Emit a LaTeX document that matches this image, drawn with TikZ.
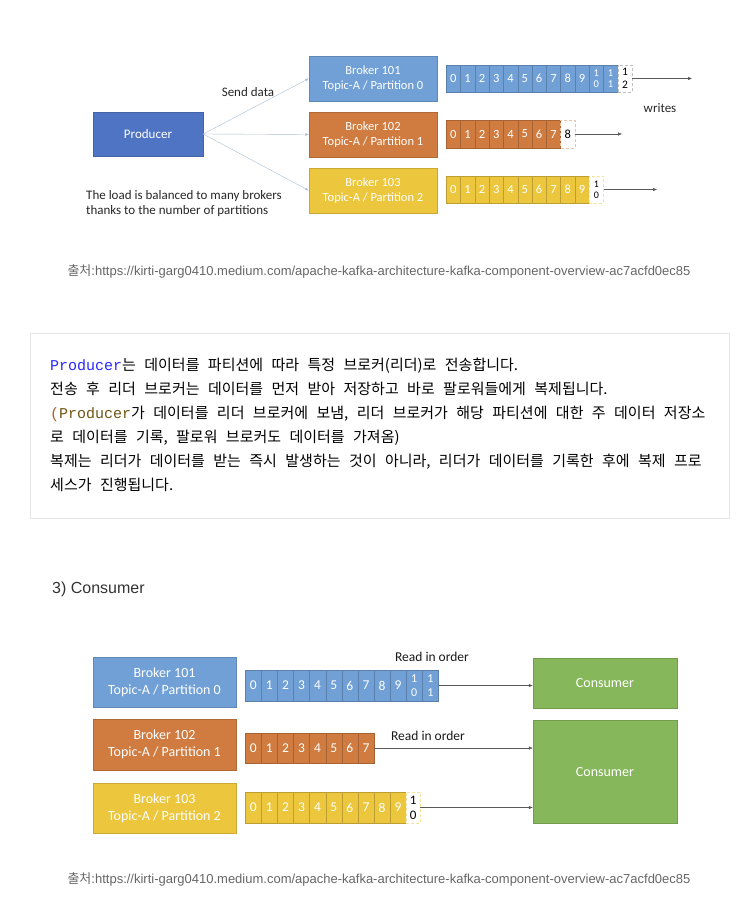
\documentclass[tikz,border=0pt]{standalone}
\usepackage{fontspec}
\setmainfont{Carlito}
\newfontfamily\krfont[WordSpace=2.5]{Noto Sans CJK KR}
\newfontfamily\capfont{Liberation Sans}
\newfontfamily\codefont{Liberation Mono}
\usetikzlibrary{arrows.meta, positioning, calc}
\definecolor{kprod}{RGB}{79,116,196}
\definecolor{kblue}{RGB}{112,160,214}
\definecolor{korange}{RGB}{208,123,64}
\definecolor{kyellow}{RGB}{236,198,60}
\definecolor{kgreen}{RGB}{134,183,90}
\definecolor{kline}{RGB}{170,190,212}
\definecolor{kcodeblue}{RGB}{40,40,255}
\definecolor{kcodebrown}{RGB}{110,85,20}
\tikzset{
    brokerbox/.style={draw=#1!85!black, fill=#1, text=white, align=center, inner sep=0pt},
    logcell/.style={draw=#1!80!black, fill=#1, text=white, anchor=west, inner sep=0pt, align=center},
    newcell/.style={draw=#1, densely dashed, fill=white, text=black, anchor=west, inner sep=0pt, align=center},
    sendarrow/.style={draw=kline, -{Latex[length=3.5pt,width=3pt]}},
    writearrow/.style={draw=black!65, -{Latex[length=4pt,width=3.5pt]}},
    krline/.style={anchor=base west, inner sep=0pt, font=\krfont\fontsize{15}{17}\selectfont},
    srcnote/.style={text=black!60, inner sep=0pt, font=\capfont\fontsize{13}{15}\selectfont}
}

\begin{document}
\begin{tikzpicture}[x=1pt, y=-1pt]
    \useasboundingbox (0,0) rectangle (753,907);

    % Producer e broker (in alto)
    \node[brokerbox=kprod, minimum width=110pt, minimum height=44pt, font=\fontsize{13}{15}\selectfont] (prod) at (148,134) {Producer};
    \node[brokerbox=kblue, minimum width=128pt, minimum height=45pt, font=\fontsize{12.5}{15}\selectfont] (b101) at (373,78.5) {Broker 101\\Topic-A / Partition 0};
    \node[brokerbox=korange, minimum width=128pt, minimum height=45pt, font=\fontsize{12.5}{15}\selectfont] (b102) at (373,134.5) {Broker 102\\Topic-A / Partition 1};
    \node[brokerbox=kyellow, minimum width=128pt, minimum height=45pt, font=\fontsize{12.5}{15}\selectfont] (b103) at (373,190.5) {Broker 103\\Topic-A / Partition 2};
    \draw[sendarrow] (prod.east) -- (b101.west);
    \draw[sendarrow] (prod.east) -- (b102.west);
    \draw[sendarrow] (prod.east) -- (b103.west);
    \node[font=\fontsize{13}{15}\selectfont, text=black!85] (send) at (248,92) {Send data};
    \node[font=\fontsize{13}{15}\selectfont, text=black!85, align=left, anchor=west, inner sep=0pt] (load) at (86,203.5) {The load is balanced to many brokers\\thanks to the number of partitions};

    % Log delle partizioni (scrittura)
    \foreach \d [count=\i from 0] in {0,...,9}
        \node[logcell=kblue, minimum width=14.3pt, minimum height=27pt, font=\fontsize{12.5}{12}\selectfont] (wa\i) at ({446+14.3*\i},78.5) {\d};
    \node[logcell=kblue, minimum width=14.3pt, minimum height=27pt, font=\fontsize{10.5}{11.5}\selectfont] (wa10) at ({446+14.3*10},78.5) {1\\0};
    \node[logcell=kblue, minimum width=14.3pt, minimum height=27pt, font=\fontsize{10.5}{11.5}\selectfont] (wa11) at ({446+14.3*11},78.5) {1\\1};
    \node[newcell=black!25, minimum width=14.3pt, minimum height=27pt, font=\fontsize{11.5}{12.5}\selectfont] (wa12) at ({446+14.3*12},78.5) {1\\2};
    \foreach \d [count=\i from 0] in {0,...,7}
        \node[logcell=korange, minimum width=14.3pt, minimum height=28pt, font=\fontsize{12.5}{12}\selectfont] (wb\i) at ({446+14.3*\i},134) {\d};
    \node[newcell=korange!45, minimum width=14.3pt, minimum height=28pt, font=\fontsize{12.5}{12}\selectfont] (wb8) at ({446+14.3*8},134) {8};
    \foreach \d [count=\i from 0] in {0,...,9}
        \node[logcell=kyellow, minimum width=14.3pt, minimum height=27pt, font=\fontsize{12.5}{12}\selectfont] (wc\i) at ({446+14.3*\i},189.5) {\d};
    \node[newcell=kyellow!50, minimum width=14.3pt, minimum height=27pt, font=\fontsize{10}{11}\selectfont] (wc10) at ({446+14.3*10},189.5) {1\\0};
    \coordinate (wa-end) at (692,78.5);
    \coordinate (wb-end) at (622,134);
    \coordinate (wc-end) at (657,189.5);
    \draw[writearrow] (wa12.east) -- (wa-end);
    \draw[writearrow] (wb8.east) -- (wb-end);
    \draw[writearrow] (wc10.east) -- (wc-end);
    \node[font=\fontsize{13}{15}\selectfont, text=black!85] (writes) at (660,108) {writes};

    % Fonte
    \node[srcnote] (src1) at (379,271) {{\krfont 출처}:https://kirti-garg0410.medium.com/apache-kafka-architecture-kafka-component-overview-ac7acfd0ec85};

    % Riquadro di testo
    \node[draw=black!10, fill=white, minimum width=699pt, minimum height=185pt, inner sep=0pt, anchor=north west] (panel) at (30,333) {};
    \node[krline] (l1) at (50,370) {{\codefont\color{kcodeblue}Producer}는 데이터를 파티션에 따라 특정 브로커(리더)로 전송합니다.};
    \node[krline] (l2) at (50,394) {전송 후 리더 브로커는 데이터를 먼저 받아 저장하고 바로 팔로워들에게 복제됩니다.};
    \node[krline] (l3) at (50,418) {{\codefont\color{korange!80!black}(\color{kcodebrown}Producer}가 데이터를 리더 브로커에 보냄, 리더 브로커가 해당 파티션에 대한 주 데이터 저장소};
    \node[krline] (l4) at (50,442) {로 데이터를 기록, 팔로워 브로커도 데이터를 가져옴)};
    \node[krline] (l5) at (50,466) {복제는 리더가 데이터를 받는 즉시 발생하는 것이 아니라, 리더가 데이터를 기록한 후에 복제 프로};
    \node[krline] (l6) at (50,490) {세스가 진행됩니다.};

    \node[font=\capfont\fontsize{16}{18}\selectfont, text=black!80, anchor=west, inner sep=0pt] (sec) at (52,589) {3) Consumer};

    % Broker e consumer (in basso)
    \node[brokerbox=kblue, minimum width=143pt, minimum height=50pt, font=\fontsize{14}{17}\selectfont] (r101) at (164.5,682.5) {Broker 101\\Topic-A / Partition 0};
    \node[brokerbox=korange, minimum width=143pt, minimum height=51pt, font=\fontsize{14}{17}\selectfont] (r102) at (164.5,744.5) {Broker 102\\Topic-A / Partition 1};
    \node[brokerbox=kyellow, minimum width=143pt, minimum height=50pt, font=\fontsize{14}{17}\selectfont] (r103) at (164.5,808) {Broker 103\\Topic-A / Partition 2};
    \node[brokerbox=kgreen, minimum width=144pt, minimum height=50pt, font=\fontsize{14}{17}\selectfont] (cons1) at (605,683) {Consumer};
    \node[brokerbox=kgreen, minimum width=144pt, minimum height=103pt, font=\fontsize{14}{17}\selectfont] (cons2) at (605,771.5) {Consumer};

    % Log delle partizioni (lettura)
    \foreach \d [count=\i from 0] in {0,...,9}
        \node[logcell=kblue, minimum width=16.1pt, minimum height=31pt, font=\fontsize{13.5}{13.5}\selectfont] (ra\i) at ({245+16.1*\i},685.5) {\d};
    \node[logcell=kblue, minimum width=16.1pt, minimum height=31pt, font=\fontsize{12}{13.5}\selectfont] (ra10) at ({245+16.1*10},685.5) {1\\0};
    \node[logcell=kblue, minimum width=16.1pt, minimum height=31pt, font=\fontsize{12}{13.5}\selectfont] (ra11) at ({245+16.1*11},685.5) {1\\1};
    \foreach \d [count=\i from 0] in {0,...,7}
        \node[logcell=korange, minimum width=16.1pt, minimum height=30pt, font=\fontsize{13.5}{13.5}\selectfont] (rb\i) at ({245+16.1*\i},748) {\d};
    \foreach \d [count=\i from 0] in {0,...,9}
        \node[logcell=kyellow, minimum width=16.1pt, minimum height=31pt, font=\fontsize{13.5}{13.5}\selectfont] (rc\i) at ({245+16.1*\i},807.5) {\d};
    \node[newcell=kyellow!50, minimum width=14pt, minimum height=31pt, font=\fontsize{13}{15}\selectfont] (rc10) at ({245+16.1*10},807.5) {1\\0};
    \draw[writearrow] (ra11.east) -- (ra11.east -| cons1.west);
    \draw[writearrow] (rb7.east) -- (rb7.east -| cons2.west);
    \draw[writearrow] (rc10.east) -- (rc10.east -| cons2.west);
    \node[font=\fontsize{13.5}{15}\selectfont, text=black!90] (read1) at (432,657) {Read in order};
    \node[font=\fontsize{13.5}{15}\selectfont, text=black!90] (read2) at (428,736) {Read in order};

    % Fonte
    \node[srcnote] (src2) at (379,879) {{\krfont 출처}:https://kirti-garg0410.medium.com/apache-kafka-architecture-kafka-component-overview-ac7acfd0ec85};
\end{tikzpicture}
\end{document}
